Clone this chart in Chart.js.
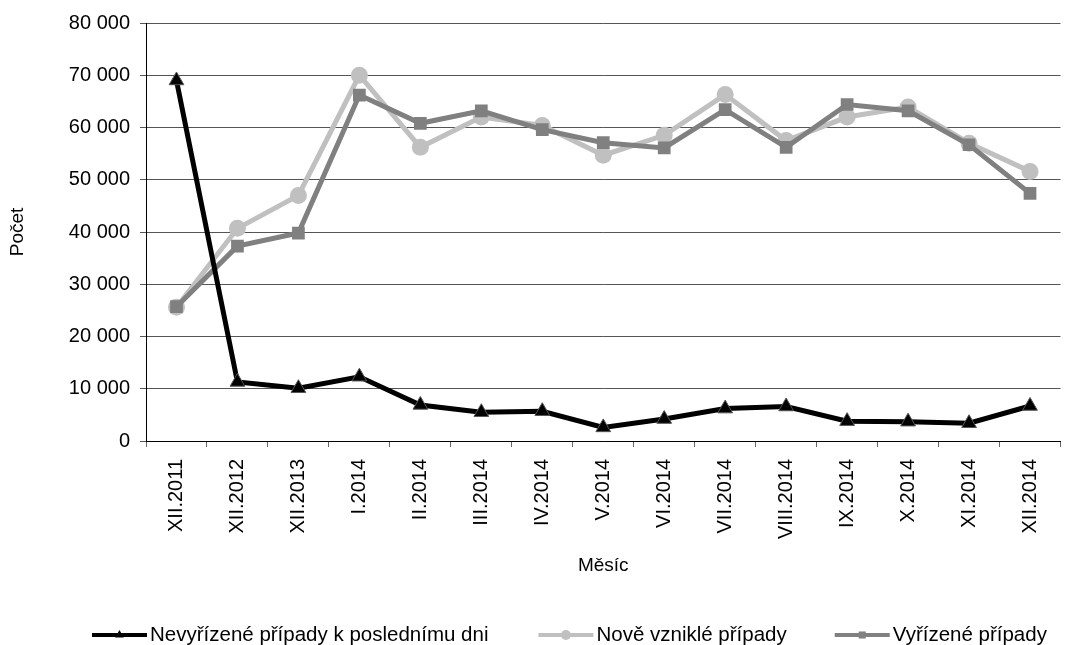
<!DOCTYPE html>
<html lang="cs">
<head>
    <meta charset="UTF-8">
    <title>Počet případů</title>
    <script src="https://cdn.jsdelivr.net/npm/chart.js@4.4.1/dist/chart.umd.min.js"></script>
    <style>
        html, body { margin: 0; padding: 0; background: #fff; }
        .chart-container { width: 1070px; height: 645px; }
    </style>
</head>
<body>
    <div class="chart-container">
        <canvas id="pripadyChart"></canvas>
    </div>
    <script>
        const months = ['XII.2011', 'XII.2012', 'XII.2013', 'I.2014', 'II.2014', 'III.2014', 'IV.2014',
            'V.2014', 'VI.2014', 'VII.2014', 'VIII.2014', 'IX.2014', 'X.2014', 'XI.2014', 'XII.2014'];

        const nevyrizene = [69000, 11300, 10100, 12300, 6900, 5500, 5700, 2600, 4200, 6200, 6600, 3800, 3700, 3400, 6700];
        const nove = [25600, 40700, 47000, 70000, 56200, 62000, 60400, 54700, 58500, 66300, 57500, 62000, 63900, 57000, 51600];
        const vyrizene = [25700, 37300, 39800, 66200, 60800, 63200, 59600, 57100, 56100, 63400, 56200, 64400, 63200, 56700, 47400];

        const seriesNames = ['Nevyřízené případy k poslednímu dni', 'Nově vzniklé případy', 'Vyřízené případy'];

        const FONT = "'Liberation Sans', Arial, sans-serif";

        // Excel-style legend: short line with a small marker, text right after it
        const excelLegend = {
            id: 'excelLegend',
            afterDraw(chart, args, opts) {
                const g = chart.ctx;
                const y = chart.height - opts.bottom;
                let x = opts.left;
                g.save();
                g.font = opts.fontSize + 'px ' + FONT;
                g.textBaseline = 'middle';
                chart.data.datasets.forEach((ds, i) => {
                    g.strokeStyle = ds.borderColor;
                    g.fillStyle = ds.borderColor;
                    g.lineWidth = 4;
                    g.beginPath();
                    g.moveTo(x, y);
                    g.lineTo(x + opts.symbolWidth, y);
                    g.stroke();
                    Chart.helpers.drawPoint(g, {
                        pointStyle: ds.pointStyle,
                        radius: 5,
                        rotation: 0,
                        borderWidth: 0
                    }, x + opts.symbolWidth / 2, y);
                    x += opts.symbolWidth + 3;

                    g.fillStyle = '#000000';
                    g.fillText(ds.label, x, y);
                    x += g.measureText(ds.label).width + (opts.gaps[i] || 0);
                });
                g.restore();
            }
        };

        const ctx = document.getElementById('pripadyChart').getContext('2d');

        new Chart(ctx, {
            type: 'line',
            data: {
                labels: months,
                datasets: [
                    {
                        label: seriesNames[0],
                        data: nevyrizene,
                        borderColor: '#000000',
                        backgroundColor: '#000000',
                        borderWidth: 5,
                        pointStyle: 'triangle',
                        pointRadius: 8.5,
                        pointBorderColor: '#555555',
                        pointBorderWidth: 1,
                        order: 0
                    },
                    {
                        label: seriesNames[1],
                        data: nove,
                        borderColor: '#c0c0c0',
                        backgroundColor: '#c0c0c0',
                        borderWidth: 5,
                        pointStyle: 'circle',
                        pointRadius: 8.5,
                        pointBorderWidth: 0,
                        order: 2
                    },
                    {
                        label: seriesNames[2],
                        data: vyrizene,
                        borderColor: '#808080',
                        backgroundColor: '#808080',
                        borderWidth: 5,
                        pointStyle: 'rect',
                        pointRadius: 9,
                        pointBorderWidth: 0,
                        order: 1
                    }
                ]
            },
            options: {
                responsive: true,
                maintainAspectRatio: false,
                animation: false,
                layout: {
                    padding: { top: 23, right: 5, left: 0, bottom: 68 }
                },
                scales: {
                    x: {
                        offset: true,
                        grid: {
                            offset: true,
                            drawOnChartArea: false,
                            tickLength: 6,
                            color: '#666666'
                        },
                        border: { color: '#000000' },
                        ticks: {
                            minRotation: 90,
                            maxRotation: 90,
                            autoSkip: false,
                            color: '#000000',
                            font: { family: FONT, size: 20 },
                            padding: 12
                        },
                        title: {
                            display: true,
                            text: 'Měsíc',
                            color: '#000000',
                            font: { family: FONT, size: 19 },
                            padding: { top: 4, bottom: 0 }
                        },
                        afterFit: function(scale) {
                            scale.height = 136;
                        }
                    },
                    y: {
                        min: 0,
                        max: 80000,
                        ticks: {
                            stepSize: 10000,
                            color: '#000000',
                            font: { family: FONT, size: 20 },
                            padding: 10,
                            callback: function(value) {
                                return String(value).replace(/\B(?=(\d{3})+(?!\d))/g, ' ');
                            }
                        },
                        grid: {
                            color: '#555555',
                            tickLength: 6
                        },
                        border: { color: '#000000' },
                        title: {
                            display: true,
                            text: 'Počet',
                            color: '#000000',
                            font: { family: FONT, size: 19 },
                            padding: { top: 6, bottom: 0 }
                        },
                        afterFit: function(scale) {
                            scale.width = 146;
                        }
                    }
                },
                plugins: {
                    legend: { display: false },
                    tooltip: { enabled: false },
                    excelLegend: {
                        left: 92,
                        bottom: 10,
                        symbolWidth: 55,
                        fontSize: 20.5,
                        gaps: [50, 48, 0]
                    }
                }
            },
            plugins: [excelLegend]
        });
    </script>
</body>
</html>
